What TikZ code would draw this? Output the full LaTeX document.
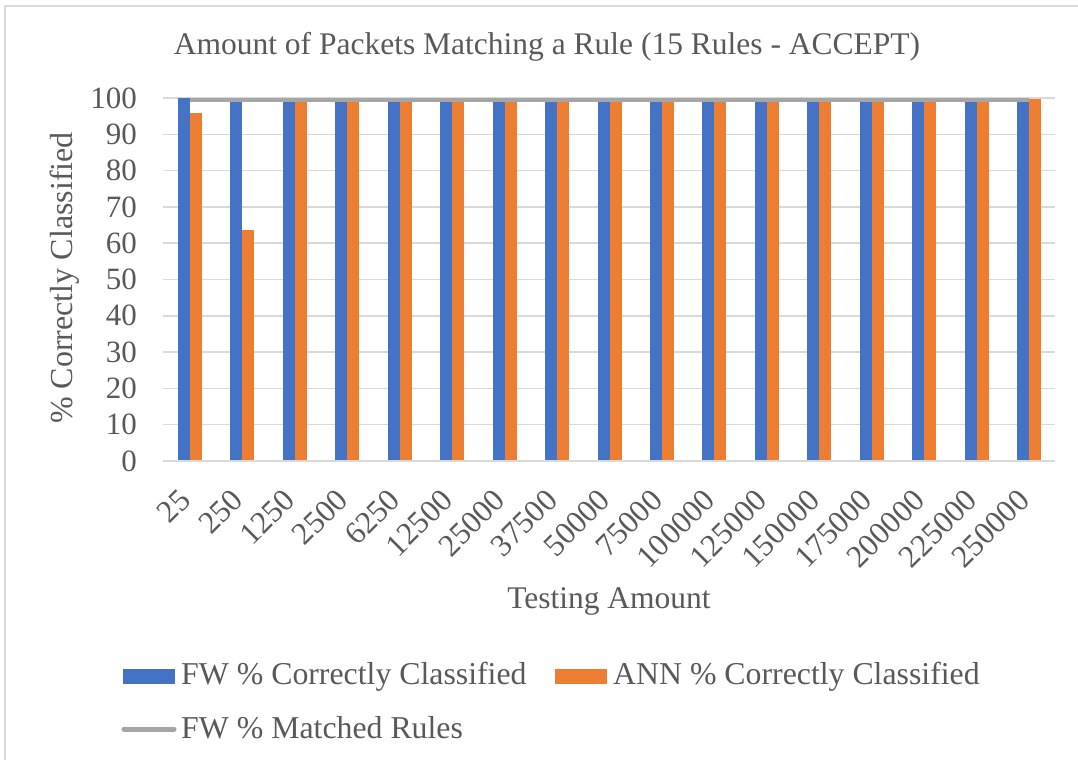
\documentclass[tikz,border=0pt]{standalone}
\usepackage{fontspec}
\setmainfont{Liberation Serif}
\definecolor{fwblue}{HTML}{4472C4}
\definecolor{annorange}{HTML}{ED7D31}
\definecolor{matchgrey}{HTML}{A5A5A5}
\definecolor{txtgrey}{HTML}{595959}
\definecolor{gridgrey}{HTML}{D9D9D9}
\begin{document}
\begin{tikzpicture}[x=1pt,y=-1pt,
  lbl/.style={text=txtgrey,font=\fontsize{31}{37}\selectfont,inner sep=0pt},
  leglbl/.style={lbl,anchor=west,font=\fontsize{31.8}{37}\selectfont},
  ticklbl/.style={lbl,anchor=east},
  xlbl/.style={lbl,anchor=east,rotate=45,font=\fontsize{31.5}{37}\selectfont},
  gridline/.style={draw=gridgrey,line width=1.5pt},
  fwbar/.style={fill=fwblue,draw=none},
  annbar/.style={fill=annorange,draw=none},
  matchline/.style={draw=matchgrey,line width=3.5pt},
]
\useasboundingbox (0,0) rectangle (1078,760);
\fill[white] (0,0) rectangle (1078,760);
% chart border
\draw[gridgrey,line width=1.5pt] (5,760) -- (5,6) -- (1078,6);
% title
\node[lbl,font=\fontsize{31.5}{37}\selectfont] (title) at (547,47) {Amount of Packets Matching a Rule (15 Rules - ACCEPT)};
% gridlines and y ticks
\foreach \v in {0,10,...,100}{
  \pgfmathsetmacro{\yy}{461-3.63*\v}
  \ifnum\v=0
    \draw[draw=gridgrey,line width=2pt] (163,\yy) -- (1055,\yy);
  \else
    \draw[gridline] (163,\yy) -- (1055,\yy);
  \fi
  \node[ticklbl] (yt\v) at (137,\yy) {\v};
}
% y axis title
\node[lbl,rotate=90,font=\fontsize{32}{37}\selectfont] (ytitle) at (65,278) {\% Correctly Classified};
% bars
\def\fwvals{{100,99.3,99.3,99.3,99.3,99.3,99.3,99.3,99.3,99.3,99.3,99.3,99.3,99.3,99.3,99.3,99.3}}
\def\annvals{{95.8,63.5,99.3,99.3,99.3,99.3,99.3,99.3,99.3,99.3,99.3,99.3,99.3,99.3,99.3,99.3,99.8}}
\foreach \lab [count=\i from 0] in {25,250,1250,2500,6250,12500,25000,37500,50000,75000,100000,125000,150000,175000,200000,225000,250000}{
  \pgfmathsetmacro{\cx}{163.8+52.44*(\i+0.5)}
  \pgfmathsetmacro{\fw}{461-3.63*\fwvals[\i]}
  \pgfmathsetmacro{\an}{461-3.63*\annvals[\i]}
  \fill[fwbar] (\cx-12,460) rectangle (\cx,\fw);
  \fill[annbar] (\cx,460) rectangle (\cx+12,\an);
  \node[xlbl] (xt\i) at (\cx-5,495) {\lab};
}
% matched rules line
\coordinate (mstart) at (190,99.8);
\coordinate (mend) at (1029,99.8);
\draw[matchline] (mstart) -- (mend);
% x axis title
\node[lbl,font=\fontsize{31.5}{37}\selectfont] (xtitle) at (609,601) {Testing Amount};
% legend
\fill[fwblue] (123,669) rectangle (175,684);
\node[leglbl] (leg1) at (181,677) {FW \% Correctly Classified};
\fill[annorange] (555,669) rectangle (607,684);
\node[leglbl] (leg2) at (613,677) {ANN \% Correctly Classified};
\coordinate (l3a) at (124,729);
\coordinate (l3b) at (174,729);
\draw[draw=matchgrey,line width=5pt,line cap=round] (l3a) -- (l3b);
\node[leglbl] (leg3) at (181,728) {FW \% Matched Rules};
\end{tikzpicture}
\end{document}
